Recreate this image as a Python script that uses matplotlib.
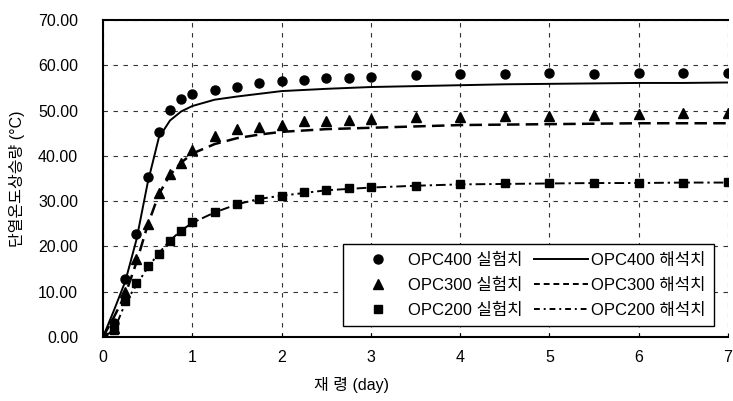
import matplotlib
matplotlib.use('Agg')
import matplotlib.pyplot as plt
from matplotlib.lines import Line2D

kfont = ['Liberation Sans', 'Noto Sans CJK KR']
plt.rcParams['font.family'] = kfont

# 재령 (day)
x_exp = [0, 0.125, 0.25, 0.375, 0.5, 0.625, 0.75, 0.875, 1, 1.25, 1.5, 1.75, 2,
         2.25, 2.5, 2.75, 3, 3.5, 4, 4.5, 5, 5.5, 6, 6.5, 7]
opc400_exp = [0, 3.0, 12.7, 22.7, 35.4, 45.2, 50.2, 52.5, 53.7, 54.6, 55.3, 56.0, 56.5,
              56.8, 57.1, 57.3, 57.4, 57.9, 58.0, 58.1, 58.2, 58.1, 58.3, 58.3, 58.4]
opc300_exp = [0, 2.0, 10.0, 17.2, 25.0, 31.8, 36.0, 38.5, 41.2, 44.3, 46.0, 46.3, 46.8,
              47.6, 47.7, 48.0, 48.1, 48.5, 48.5, 48.7, 48.8, 49.1, 49.2, 49.4, 49.4]
opc200_exp = [0, 1.5, 8.0, 12.0, 15.6, 18.3, 21.2, 23.4, 25.3, 27.6, 29.3, 30.4, 31.2,
              32.0, 32.5, 32.9, 33.1, 33.4, 33.8, 33.9, 34.0, 34.0, 34.1, 34.1, 34.2]

x_ana = [0, 0.125, 0.25, 0.375, 0.5, 0.625, 0.75, 0.875, 1, 1.25, 1.5, 1.75, 2,
         2.5, 3, 3.5, 4, 4.5, 5, 5.5, 6, 6.5, 7]
opc400_ana = [0, 6.0, 12.3, 21.5, 34.0, 44.0, 47.8, 49.8, 51.0, 52.4, 53.1, 53.7, 54.3,
              54.8, 55.2, 55.4, 55.6, 55.8, 55.9, 56.0, 56.1, 56.1, 56.2]
opc300_ana = [0, 4.5, 9.4, 16.5, 24.7, 31.5, 35.8, 38.5, 40.5, 42.6, 43.9, 44.7, 45.3,
              45.9, 46.2, 46.5, 46.8, 46.9, 47.0, 47.1, 47.2, 47.2, 47.2]
opc200_ana = [0, 1.5, 7.5, 11.5, 15.3, 18.5, 21.3, 23.5, 25.2, 27.5, 29.3, 30.5, 31.2,
              32.4, 33.0, 33.4, 33.7, 33.8, 33.9, 34.0, 34.0, 34.1, 34.1]

fig = plt.figure(figsize=(7.33, 4.01), dpi=100)
ax = fig.add_axes([103/733, 64/401, 625/733, 317/401])

ax.plot(x_ana, opc400_ana, color='k', lw=1.4, ls='-')
ax.plot(x_ana, opc300_ana, color='k', lw=1.8, ls=(0, (5, 2.5)))
ax.plot(x_ana, opc200_ana, color='k', lw=1.4, ls=(0, (5, 2, 1.2, 2)))

ax.plot(x_exp, opc400_exp, 'o', color='k', ms=6.5, ls='none')
ax.plot(x_exp, opc300_exp, '^', color='k', ms=7, ls='none')
ax.plot(x_exp, opc200_exp, 's', color='k', ms=6, ls='none')

ax.set_xlim(0, 7)
ax.set_ylim(0, 70)
ax.set_xticks(range(0, 8))
ax.set_yticks(range(0, 71, 10))
ax.set_yticklabels(['%.2f' % v for v in range(0, 71, 10)])
ax.grid(True, color='#333333', lw=0.8, ls=(0, (4, 5)))
ax.tick_params(axis='y', length=0, pad=18, labelsize=11.5)
ax.tick_params(axis='x', length=3, direction='in', pad=9, labelsize=11.5)

for s in ['left', 'top', 'bottom']:
    ax.spines[s].set_linewidth(1.5)
ax.spines['right'].set_visible(False)

ax.set_xlabel('재 령 (day)', fontsize=11.5)
ax.xaxis.set_label_coords((352 - 103) / 625, -0.125)
ax.set_ylabel('단열온도상승량 (°C)', fontsize=11.5)
ax.yaxis.set_label_coords(-0.125, 0.5)

handles = [
    Line2D([], [], marker='o', color='k', ls='none', ms=6.5),
    Line2D([], [], marker='^', color='k', ls='none', ms=7),
    Line2D([], [], marker='s', color='k', ls='none', ms=6),
    Line2D([], [], color='k', lw=1.4, ls='-'),
    Line2D([], [], color='k', lw=1.4, ls=(0, (3, 2))),
    Line2D([], [], color='k', lw=1.4, ls=(0, (3, 2, 1, 2))),
]
labels = ['OPC400 실험치', 'OPC300 실험치', 'OPC200 실험치',
          'OPC400 해석치', 'OPC300 해석치', 'OPC200 해석치']
leg = ax.legend(handles, labels, ncol=2, loc='upper left',
                bbox_to_anchor=(240 / 625, 0.293), borderaxespad=0,
                fontsize=12, handlelength=3.2, handletextpad=0.2,
                columnspacing=0.7, labelspacing=0.6, borderpad=0.5,
                fancybox=False, framealpha=1, edgecolor='k')
leg.get_frame().set_linewidth(1.0)

fig.savefig('out.png', dpi=100)
